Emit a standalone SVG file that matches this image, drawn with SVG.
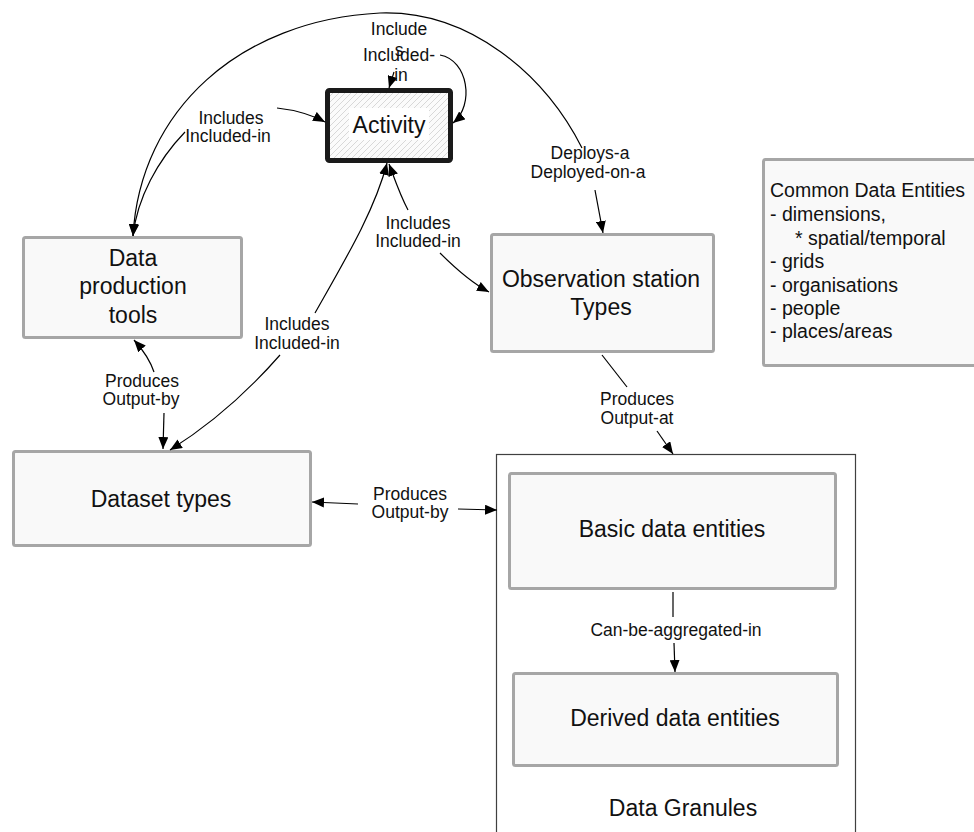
<svg xmlns="http://www.w3.org/2000/svg" width="974" height="832" viewBox="0 0 974 832">
  <style>
    .box { fill: #f9f9f9; stroke: #a6a6a6; stroke-width: 3; }
    .node-text { font-family: "Liberation Sans", Arial, sans-serif; font-size: 23px; fill: #111; text-anchor: middle; }
    .lbl { font-family: "Liberation Sans", Arial, sans-serif; font-size: 17.5px; fill: #111; text-anchor: middle; }
    .cde { font-family: "Liberation Sans", Arial, sans-serif; font-size: 19.5px; fill: #111; }
    .conn { fill: none; stroke: #000; stroke-width: 1.2; }
    .arr { marker-end: url(#ah); }
  </style>
  <defs>
    <marker id="ah" viewBox="0 0 12 10" refX="12" refY="5" markerWidth="12" markerHeight="10" markerUnits="userSpaceOnUse" orient="auto">
      <path d="M0,0 L12,5 L0,10 z" fill="#000"/>
    </marker>
    <marker id="ahs" viewBox="0 0 12 10" refX="12" refY="5" markerWidth="12" markerHeight="10" markerUnits="userSpaceOnUse" orient="auto-start-reverse">
      <path d="M0,0 L12,5 L0,10 z" fill="#000"/>
    </marker>
    <pattern id="hatch" patternUnits="userSpaceOnUse" width="6" height="6">
      <rect width="6" height="6" fill="#fbfbfb"/>
      <path d="M-1,7 L7,-1 M-1,1 L1,-1 M5,7 L7,5" stroke="#cfcfcf" stroke-width="0.8"/>
    </pattern>
  </defs>

  <rect width="974" height="832" fill="#ffffff"/>

  <g id="data-granules">
    <rect x="496.5" y="454.5" width="359" height="400" fill="#ffffff" stroke="#404040" stroke-width="1.2"/>
    <text class="node-text" x="683" y="816">Data Granules</text>
  </g>

  <g id="activity">
    <rect x="327.5" y="90.5" width="123" height="70" rx="2" fill="url(#hatch)" stroke="#1a1a1a" stroke-width="5"/>
    <rect x="349" y="108" width="80" height="32" fill="#ffffff"/>
    <text class="node-text" x="389" y="133">Activity</text>
  </g>

  <g id="data-production-tools">
    <rect class="box" x="23.5" y="237.5" width="218" height="100" rx="2"/>
    <text class="node-text" x="133" y="266">Data</text>
    <text class="node-text" x="133" y="294">production</text>
    <text class="node-text" x="133" y="323">tools</text>
  </g>

  <g id="dataset-types">
    <rect class="box" x="13.5" y="451.5" width="297" height="94" rx="2"/>
    <text class="node-text" x="161" y="507">Dataset types</text>
  </g>

  <g id="observation-station-types">
    <rect class="box" x="491.5" y="234.5" width="222" height="117" rx="2"/>
    <text class="node-text" x="601" y="287">Observation station</text>
    <text class="node-text" x="601" y="315">Types</text>
  </g>

  <g id="basic-data-entities">
    <rect class="box" x="509.5" y="473.5" width="326" height="115" rx="2"/>
    <text class="node-text" x="672" y="537">Basic data entities</text>
  </g>

  <g id="derived-data-entities">
    <rect class="box" x="513.5" y="673.5" width="324" height="92" rx="2"/>
    <text class="node-text" x="675" y="726">Derived data entities</text>
  </g>

  <g id="common-data-entities">
    <rect class="box" x="763.5" y="159.5" width="230" height="206" rx="2"/>
    <text class="cde" x="770" y="197">Common Data Entities</text>
    <text class="cde" x="770" y="221">- dimensions,</text>
    <text class="cde" x="795" y="245">* spatial/temporal</text>
    <text class="cde" x="770" y="268">- grids</text>
    <text class="cde" x="770" y="292">- organisations</text>
    <text class="cde" x="770" y="315">- people</text>
    <text class="cde" x="770" y="338">- places/areas</text>
  </g>

  <g id="connectors">
    <path class="conn" d="M133,236 C140,110 240,20 380,13 C470,10 545,75 582,148" marker-start="url(#ahs)"/>
    <path class="conn arr" d="M595,190 L603,233"/>
    <text class="lbl" x="590" y="159">Deploys-a</text>
    <text class="lbl" x="588" y="177.5">Deployed-on-a</text>

    <path class="conn arr" d="M440,55 C468,60 475,105 453,123"/>
    <path class="conn arr" d="M394,72 L389,88"/>
    <text class="lbl" x="399" y="35">Include</text>
    <text class="lbl" x="399" y="56">s</text>
    <text class="lbl" x="399" y="61">Included-</text>
    <text class="lbl" x="401" y="81">in</text>

    <path class="conn arr" d="M185,132 C158,160 137,198 133,236"/>
    <path class="conn arr" d="M277,108 C295,110 310,114 325,122"/>
    <text class="lbl" x="231" y="124">Includes</text>
    <text class="lbl" x="228" y="142">Included-in</text>

    <path class="conn arr" d="M315,313 C345,260 375,210 387,163"/>
    <path class="conn arr" d="M280,355 C245,395 210,425 170,450"/>
    <text class="lbl" x="297" y="330">Includes</text>
    <text class="lbl" x="297" y="349">Included-in</text>

    <path class="conn arr" d="M408,210 C400,195 395,180 389,164"/>
    <path class="conn arr" d="M440,253 C455,268 470,282 489,292"/>
    <text class="lbl" x="418" y="229">Includes</text>
    <text class="lbl" x="418" y="247">Included-in</text>

    <path class="conn arr" d="M154,372 C150,360 143,350 134,340"/>
    <path class="conn arr" d="M164,413 L163,449"/>
    <text class="lbl" x="142" y="387">Produces</text>
    <text class="lbl" x="141" y="405">Output-by</text>

    <path class="conn arr" d="M358,504 L312,502"/>
    <path class="conn arr" d="M458,509 L497,510"/>
    <text class="lbl" x="410" y="500">Produces</text>
    <text class="lbl" x="410" y="518">Output-by</text>

    <path class="conn" d="M602,355 L627,387"/>
    <path class="conn arr" d="M657,431 L673,454"/>
    <text class="lbl" x="637" y="405">Produces</text>
    <text class="lbl" x="637" y="424">Output-at</text>

    <path class="conn" d="M673,592 L673,617"/>
    <path class="conn arr" d="M674,643 L675,672"/>
    <text class="lbl" x="676" y="636">Can-be-aggregated-in</text>
  </g>
</svg>
